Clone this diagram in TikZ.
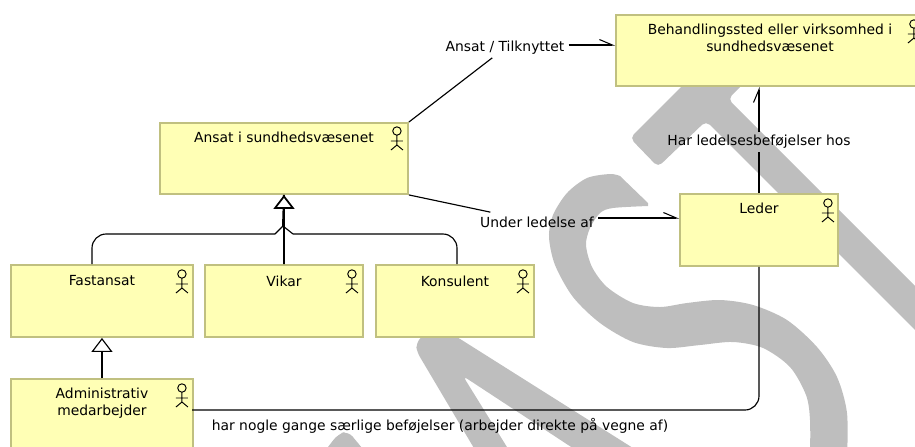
\documentclass[tikz,border=0pt]{standalone}
\usepackage{fontspec}
\setmainfont{DejaVu Sans}
\usetikzlibrary{positioning,arrows.meta}
\definecolor{boxfill}{HTML}{FFFFB5}
\definecolor{boxline}{HTML}{C0C080}
\definecolor{markgray}{HTML}{BEBEBE}
\tikzset{
	actorbox/.style={draw=boxline,fill=boxfill,line width=1.1pt,inner sep=0pt,anchor=north west},
	boxtitle/.style={inner sep=0pt,align=center,font=\fontsize{7.9}{10}\selectfont},
	linklabel/.style={inner xsep=0.8mm,inner ysep=0pt,minimum height=3.8mm,font=\fontsize{7.9}{10}\selectfont},
	link/.style={line width=0.65pt,black},
	linkto/.style={link,-{Straight Barb[harpoon,length=2.6mm,width=2.2mm,line width=0.6pt]}},
	genlink/.style={link,-{Triangle[open,fill=white,length=2.8mm,width=4.2mm]}},
	actorfig/.pic={
		\draw[line width=0.55pt,black] (0,0) circle (4.2);
		\draw[line width=0.55pt,black] (0,4.2)--(0,14) (-6,10)--(6,10) (-6,19)--(0,14)--(6,19);
	}
}
\begin{document}
\begin{tikzpicture}[x=0.2mm,y=-0.2mm]
	\path[use as bounding box,clip] (0,0) rectangle (915,446);
	% letters behind the diagram
	\fill[markgray,rounded corners=3] (630,138)--(720,48)--(765,62)--(728,99)--(943,314)--(943,358)--(706,121)--(658,167)--cycle;
	\fill[markgray] plot[smooth] coordinates {(620,176)(610,174)(587,178)(567,193)(553,215)(549,237)(555,265)(573,297)(600,323)(633,342)(667,348)(700,345)(733,342)(763,348)(790,367)(806,395)(810,420)(810,460)}
		--(847,460)
		--plot[smooth] coordinates {(847,460)(847,413)(837,377)(817,347)(787,320)(753,305)(720,300)(687,303)(660,307)(633,303)(607,287)(592,267)(586,245)(590,228)(600,213)(613,208)(648,206)}
		--(648,203)--cycle;
	\fill[markgray,rounded corners=3] (416,344)--(417,352)--(481,460)--(515,460)--(463,376)--(591,460)--(652,460)--(457,337)--(430,325)--cycle;
	\fill[markgray,rounded corners=4] (318,460)--(338,434)--(348,431)--(372,460)--cycle;

	% boxes
	\node[actorbox,minimum width=61.6mm,minimum height=14.2mm] (behand) at (615,14) {};
	\node[actorbox,minimum width=49.6mm,minimum height=14.2mm] (ansat) at (159,122) {};
	\node[actorbox,minimum width=31.6mm,minimum height=14.4mm] (leder) at (679,193) {};
	\node[actorbox,minimum width=36.4mm,minimum height=14.4mm] (fastansat) at (10,264) {};
	\node[actorbox,minimum width=31.6mm,minimum height=14.4mm] (vikar) at (204,264) {};
	\node[actorbox,minimum width=31.6mm,minimum height=14.4mm] (konsulent) at (375,264) {};
	\node[actorbox,minimum width=36.4mm,minimum height=16mm] (admin) at (10,378) {};
	\node[boxtitle,below=1.9mm of behand.north] (behandtxt) {Behandlingssted eller virksomhed i\\sundhedsvæsenet};
	\node[boxtitle,below=2.0mm of ansat.north] (ansattxt) {Ansat i sundhedsvæsenet};
	\node[boxtitle,below=2.0mm of leder.north] (ledertxt) {Leder};
	\node[boxtitle,below=2.3mm of fastansat.north] (fastansattxt) {Fastansat};
	\node[boxtitle,below=2.3mm of vikar.north] (vikartxt) {Vikar};
	\node[boxtitle,below=2.3mm of konsulent.north] (konsulenttxt) {Konsulent};
	\node[boxtitle,below=1.9mm of admin.north] (admintxt) {Administrativ\\medarbejder};
	\path (behand.north east)++(-11,10) pic {actorfig};
	\path (ansat.north east)++(-12,9) pic {actorfig};
	\path (leder.north east)++(-11,10) pic {actorfig};
	\path (fastansat.north east)++(-12,10) pic {actorfig};
	\path (vikar.north east)++(-12,10) pic {actorfig};
	\path (konsulent.north east)++(-12,10) pic {actorfig};
	\path (admin.north east)++(-12,10) pic {actorfig};

	% labels on the links
	\node[linklabel] (ansatlbl) at (505,48) {Ansat / Tilknyttet};
	\node[linklabel] (underlbl) at (537,222) {Under ledelse af};
	\node[linklabel] (harlbl) at (759,142) {Har ledelsesbeføjelser hos};
	\node[linklabel] (nogelbl) at (440,426) {har nogle gange særlige beføjelser (arbejder direkte på vegne af)};
	\coordinate (behandin) at (615,45);
	\coordinate (lederin) at (679,218);
	\coordinate (adminout) at (192,410);
	\coordinate (fastansatup) at (92,264);
	\coordinate (konsulentup) at (457,264);
	\coordinate (genleft) at (275,234);
	\coordinate (genright) at (293,234);
	\coordinate (genjoin) at (283,226);

	% links
	\draw[link] (ansat.north east)--(ansatlbl);
	\draw[linkto] (ansatlbl.east |- behandin)--(behandin);
	\draw[link] (ansat.south east)--(underlbl);
	\draw[linkto] (underlbl.east |- lederin)--(lederin);
	\draw[link] (leder.north -| harlbl)--(harlbl);
	\draw[linkto] (harlbl)--(harlbl |- behand.south);
	\draw[link,rounded corners=8] (adminout)-|(harlbl |- leder.south);
	\draw[link,rounded corners=8] (fastansatup)|-(genleft);
	\draw[link] (genleft)--(genjoin)--(genright);
	\draw[link,rounded corners=8] (genright)-|(konsulentup);
	\draw[link,line width=1.1pt] (genjoin)--(ansat.south);
	\draw[genlink,line width=1pt] (vikar.north)--(ansat.south);
	\draw[genlink] (admin.north -| fastansat.south)--(fastansat.south);
\end{tikzpicture}
\end{document}
